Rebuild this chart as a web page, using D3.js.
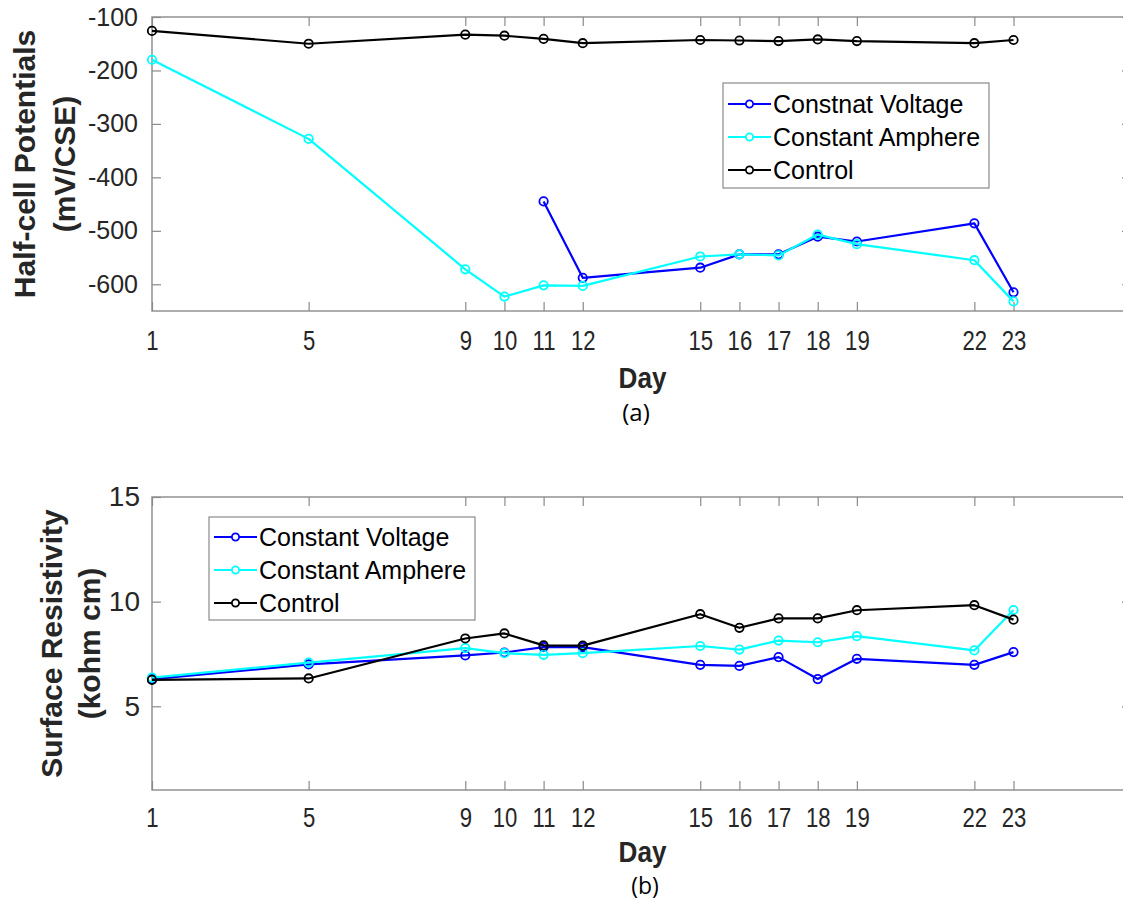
<!DOCTYPE html>
<html>
<head>
<meta charset="utf-8">
<script src="https://cdn.jsdelivr.net/npm/d3@7/dist/d3.min.js"></script>
<style>
  html, body { margin: 0; padding: 0; background: #fff; }
  svg { display: block; font-family: "Liberation Sans", Arial, Helvetica, sans-serif; }
</style>
</head>
<body>
<svg id="fig" width="1123" height="901"></svg>
<script>
// Measurement days
const days = [1, 5, 9, 10, 11, 12, 15, 16, 17, 18, 19, 22, 23];
const dayTicks = [1, 5, 9, 10, 11, 12, 15, 16, 17, 18, 19, 22, 23];

// (a) Half-cell potentials, mV/CSE
const hcpVoltageDays = [11, 12, 15, 16, 17, 18, 19, 22, 23];
const hcpVoltage = [-445, -588, -569, -544, -544, -511, -520, -486, -615];
const hcpAmphere = [-180, -328, -572, -623, -602, -603, -548, -544, -546, -507, -525, -555, -632];
const hcpControl = [-126, -150, -133, -135, -141, -149, -143, -144, -145, -142, -145, -149, -143];
const hcpTicks = [-600, -500, -400, -300, -200, -100];

// (b) Surface resistivity, kohm cm
const resVoltage = [6.30, 7.00, 7.43, 7.57, 7.83, 7.83, 6.98, 6.93, 7.35, 6.30, 7.27, 6.98, 7.59];
const resAmphere = [6.37, 7.09, 7.78, 7.54, 7.46, 7.54, 7.88, 7.71, 8.14, 8.06, 8.35, 7.67, 9.60];
const resControl = [6.26, 6.33, 8.24, 8.48, 7.91, 7.90, 9.40, 8.75, 9.20, 9.20, 9.59, 9.83, 9.14];
const resTicks = [5, 10, 15];

const svg = d3.select("#fig");
const axisColor = "#8a8a8a";
const tickTextColor = "#262626";

function panel(cfg) {
  const g = svg.append("g");
  const x = d3.scaleLinear().domain([1, 26]).range([cfg.left, cfg.right]);
  const y = d3.scaleLinear().domain(cfg.yDomain).range([cfg.bottom, cfg.top]);

  // box outline
  g.append("rect")
    .attr("x", cfg.left).attr("y", cfg.top)
    .attr("width", cfg.right - cfg.left).attr("height", cfg.bottom - cfg.top)
    .attr("fill", "none").attr("stroke", axisColor).attr("stroke-width", 1.4);

  const tickLen = 9;

  // bottom axis with labels, ticks pointing inward
  const xb = g.append("g").attr("transform", `translate(0,${cfg.bottom})`)
    .call(d3.axisBottom(x).tickValues(dayTicks).tickFormat(d3.format("d"))
      .tickSizeInner(-tickLen).tickSizeOuter(0).tickPadding(cfg.xPad));
  // top axis ticks only
  const xt = g.append("g").attr("transform", `translate(0,${cfg.top})`)
    .call(d3.axisTop(x).tickValues(dayTicks).tickFormat("")
      .tickSizeInner(-tickLen).tickSizeOuter(0));
  // left axis with labels
  const yl = g.append("g").attr("transform", `translate(${cfg.left},0)`)
    .call(d3.axisLeft(y).tickValues(cfg.yTicks).tickFormat(d3.format("d"))
      .tickSizeInner(-tickLen).tickSizeOuter(0).tickPadding(cfg.yPad));
  // right axis ticks only
  const yr = g.append("g").attr("transform", `translate(${cfg.right},0)`)
    .call(d3.axisRight(y).tickValues(cfg.yTicks).tickFormat("")
      .tickSizeInner(-tickLen).tickSizeOuter(0));

  [xb, xt, yl, yr].forEach(a => {
    a.select(".domain").remove();
    a.selectAll(".tick line").attr("stroke", axisColor).attr("stroke-width", 1.2);
  });
  // day labels are set in a narrow, tall style
  xb.selectAll(".tick text").attr("font-size", cfg.xFont).attr("fill", tickTextColor)
    .attr("font-family", "Liberation Sans, Arial, sans-serif")
    .attr("transform", "scale(0.82,1)");
  yl.selectAll(".tick text").attr("font-size", cfg.yFont).attr("fill", tickTextColor)
    .attr("font-family", "Liberation Sans, Arial, sans-serif");
  // d3 uses a unicode minus; keep a plain hyphen as in the figure
  yl.selectAll(".tick text").text(d => String(d));

  // y axis title (two lines)
  const cy = (cfg.top + cfg.bottom) / 2;
  cfg.yTitle.forEach((line, i) => {
    g.append("text")
      .attr("transform", `translate(${cfg.yTitleX[i]},${cy}) rotate(-90)`)
      .attr("text-anchor", "middle")
      .attr("font-size", 30).attr("font-weight", "bold").attr("fill", tickTextColor)
      .text(line);
  });

  // x axis title
  const cx = (cfg.left + cfg.right) / 2 + 1;
  g.append("text").attr("transform", `translate(${cx},${cfg.xTitleY}) scale(0.9,1)`)
    .attr("text-anchor", "middle").attr("font-size", 29).attr("font-weight", "bold")
    .attr("fill", tickTextColor).text("Day");

  // series
  const line = d3.line().x(d => x(d[0])).y(d => y(d[1]));
  cfg.series.forEach(s => {
    const pts = s.days.map((d, i) => [d, s.values[i]]);
    g.append("path").datum(pts)
      .attr("d", line).attr("fill", "none")
      .attr("stroke", s.color).attr("stroke-width", 2.2).attr("stroke-linejoin", "round");
    g.selectAll(null).data(pts).enter().append("circle")
      .attr("cx", d => x(d[0])).attr("cy", d => y(d[1])).attr("r", 4.2)
      .attr("fill", "none").attr("stroke", s.color).attr("stroke-width", 1.8);
  });

  // legend
  const L = cfg.legend;
  g.append("rect").attr("x", L.x).attr("y", L.y).attr("width", L.w).attr("height", L.h)
    .attr("fill", "#fff").attr("stroke", axisColor).attr("stroke-width", 1.2);
  L.items.forEach((it, i) => {
    const ry = L.y + L.firstRow + i * L.rowGap;
    g.append("line").attr("x1", L.x + 5).attr("x2", L.x + 48).attr("y1", ry).attr("y2", ry)
      .attr("stroke", it.color).attr("stroke-width", 2.2);
    g.append("circle").attr("cx", L.x + 26.5).attr("cy", ry).attr("r", 3.6)
      .attr("fill", "#fff").attr("stroke", it.color).attr("stroke-width", 1.8);
    g.append("text").attr("x", L.x + 50).attr("y", ry).attr("dy", "0.36em")
      .attr("font-size", 25).attr("fill", "#000").text(it.label);
  });
}

panel({
  left: 152, right: 1131, top: 17, bottom: 311,
  yDomain: [-650, -100], yTicks: hcpTicks,
  xPad: 20, yPad: 14, xFont: 27, yFont: 25,
  yTitle: ["Half-cell Potentials", "(mV/CSE)"], yTitleX: [35, 75],
  xTitleY: 388,
  series: [
    { days: hcpVoltageDays, values: hcpVoltage, color: "#0000ff" },
    { days: days, values: hcpAmphere, color: "#00ffff" },
    { days: days, values: hcpControl, color: "#000000" }
  ],
  legend: {
    x: 723, y: 83, w: 266, h: 105, firstRow: 21, rowGap: 33,
    items: [
      { label: "Constnat Voltage", color: "#0000ff" },
      { label: "Constant Amphere", color: "#00ffff" },
      { label: "Control", color: "#000000" }
    ]
  }
});

panel({
  left: 152, right: 1131, top: 497, bottom: 790,
  yDomain: [1, 15], yTicks: resTicks,
  xPad: 18, yPad: 12, xFont: 27, yFont: 28,
  yTitle: ["Surface Resistivity", "(kohm cm)"], yTitleX: [62, 100],
  xTitleY: 862,
  series: [
    { days: days, values: resVoltage, color: "#0000ff" },
    { days: days, values: resAmphere, color: "#00ffff" },
    { days: days, values: resControl, color: "#000000" }
  ],
  legend: {
    x: 209, y: 517, w: 266, h: 103, firstRow: 20, rowGap: 33,
    items: [
      { label: "Constant Voltage", color: "#0000ff" },
      { label: "Constant Amphere", color: "#00ffff" },
      { label: "Control", color: "#000000" }
    ]
  }
});

// panel captions
svg.append("text").attr("x", 636).attr("y", 421).attr("text-anchor", "middle")
  .attr("font-family", "Open Sans, Noto Sans, sans-serif").attr("font-size", 24).attr("fill", "#000").text("(a)");
svg.append("text").attr("x", 645).attr("y", 894).attr("text-anchor", "middle")
  .attr("font-family", "Open Sans, Noto Sans, sans-serif").attr("font-size", 23).attr("fill", "#000").text("(b)");
</script>
</body>
</html>
